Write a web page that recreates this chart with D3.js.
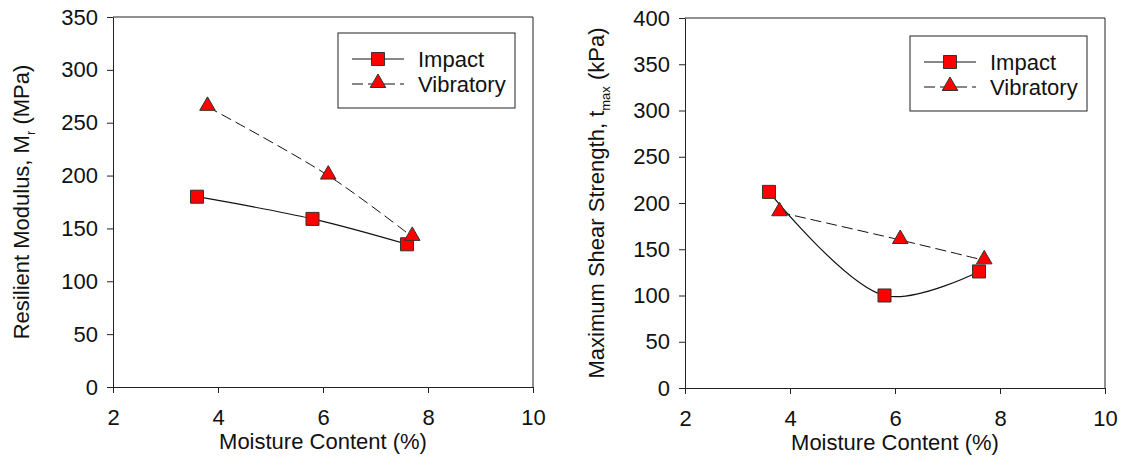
<!DOCTYPE html>
<html>
<head>
<meta charset="utf-8">
<script src="https://cdn.jsdelivr.net/npm/d3@7"></script>
<style>
  body { margin: 0; background: #fff; }
  svg { font-family: "Liberation Sans", Arial, sans-serif; }
  .axis path, .axis line { stroke: #222; }
  .axis text { font-size: 22px; fill: #111; font-family: "Liberation Sans", Arial, sans-serif; }
</style>
</head>
<body>
<div id="chart"></div>
<script>
// data
const xTicks = [2, 4, 6, 8, 10];

const mrImpactX = [3.6, 5.8, 7.6];
const mrImpactY = [180, 159, 135];
const mrVibX = [3.8, 6.1, 7.7];
const mrVibY = [265, 200, 142];
const mrTicks = [0, 50, 100, 150, 200, 250, 300, 350];

const tauImpactX = [3.6, 5.8, 7.6];
const tauImpactY = [212, 100, 126];
const tauVibX = [3.8, 6.1, 7.7];
const tauVibY = [190, 160, 138];
const tauTicks = [0, 50, 100, 150, 200, 250, 300, 350, 400];

const svg = d3.select("#chart").append("svg")
    .attr("width", 1122)
    .attr("height", 471);

function drawPanel(opts) {
    const width = 420, height = 370;
    const g = svg.append("g")
        .attr("transform", "translate(" + opts.left + "," + opts.top + ")");

    const x = d3.scaleLinear().domain([2, 10]).range([0, width]);
    const y = d3.scaleLinear().domain([0, opts.ymax]).range([height, 0]);

    // frame (top and right)
    g.append("line").attr("x1", 0).attr("x2", width).attr("y1", 0).attr("y2", 0)
        .attr("stroke", "#222");
    g.append("line").attr("x1", width).attr("x2", width).attr("y1", 0).attr("y2", height)
        .attr("stroke", "#222");

    g.append("g")
        .attr("class", "axis")
        .attr("transform", "translate(0," + height + ")")
        .call(d3.axisBottom(x).tickValues(xTicks).tickSize(6).tickSizeOuter(0).tickPadding(16));

    g.append("g")
        .attr("class", "axis")
        .call(d3.axisLeft(y).tickValues(opts.yTicks).tickSize(6).tickSizeOuter(0).tickPadding(9));

    // x axis title
    g.append("text")
        .attr("x", width / 2)
        .attr("y", height + 62)
        .attr("text-anchor", "middle")
        .attr("font-size", 22)
        .attr("fill", "#111")
        .text("Moisture Content (%)");

    // y axis title
    const yt = g.append("text")
        .attr("transform", "translate(" + opts.titleX + "," + (height / 2) + ") rotate(-90)")
        .attr("text-anchor", "middle")
        .attr("font-size", 22)
        .attr("fill", "#111");
    yt.append("tspan").text(opts.yTitle[0]);
    yt.append("tspan").attr("font-size", 13).attr("dy", 6).text(opts.yTitle[1]);
    yt.append("tspan").attr("dy", -6).text(opts.yTitle[2]);

    const impact = opts.impX.map((v, i) => [v, opts.impY[i]]);
    const vib = opts.vibX.map((v, i) => [v, opts.vibY[i]]);

    const line = d3.line()
        .x(d => x(d[0]))
        .y(d => y(d[1]))
        .curve(d3.curveCatmullRom.alpha(0.5));

    g.append("path")
        .datum(vib)
        .attr("d", line)
        .attr("fill", "none")
        .attr("stroke", "#111")
        .attr("stroke-width", 1)
        .attr("stroke-dasharray", "11,5");

    g.append("path")
        .datum(impact)
        .attr("d", line)
        .attr("fill", "none")
        .attr("stroke", "#111")
        .attr("stroke-width", 1.2);

    const sq = d3.symbol().type(d3.symbolSquare).size(170);
    const tri = d3.symbol().type(d3.symbolTriangle).size(105);

    g.selectAll(".imp")
        .data(impact)
        .enter().append("path")
        .attr("class", "imp")
        .attr("transform", d => "translate(" + x(d[0]) + "," + y(d[1]) + ")")
        .attr("d", sq)
        .attr("fill", "#ff0000")
        .attr("stroke", "#333")
        .attr("stroke-width", 1);

    g.selectAll(".vib")
        .data(vib)
        .enter().append("path")
        .attr("class", "vib")
        .attr("transform", d => "translate(" + x(d[0]) + "," + (y(d[1]) - 1) + ")")
        .attr("d", tri)
        .attr("fill", "#ff0000")
        .attr("stroke", "#333")
        .attr("stroke-width", 1);

    // legend
    const lg = g.append("g").attr("transform", "translate(225," + opts.legTop + ")");
    lg.append("rect")
        .attr("width", 177).attr("height", 75)
        .attr("fill", "#fff").attr("stroke", "#222").attr("stroke-width", 1);

    const entries = [
        { name: "Impact", sym: sq, dash: null, yy: 26 },
        { name: "Vibratory", sym: tri, dash: "11,5", yy: 51 }
    ];
    entries.forEach(e => {
        lg.append("line")
            .attr("x1", 14).attr("x2", 66)
            .attr("y1", e.yy).attr("y2", e.yy)
            .attr("stroke", "#111")
            .attr("stroke-dasharray", e.dash);
        lg.append("path")
            .attr("transform", "translate(40," + (e.sym === tri ? e.yy - 1 : e.yy) + ")")
            .attr("d", e.sym)
            .attr("fill", "#ff0000")
            .attr("stroke", "#333");
        lg.append("text")
            .attr("x", 80)
            .attr("y", e.yy + 8)
            .attr("font-size", 22)
            .attr("fill", "#111")
            .text(e.name);
    });
}

drawPanel({
    left: 113, top: 17, ymax: 350, yTicks: mrTicks,
    titleX: -84, legTop: 16,
    yTitle: ["Resilient Modulus, M", "r", " (MPa)"],
    impX: mrImpactX, impY: mrImpactY, vibX: mrVibX, vibY: mrVibY
});

drawPanel({
    left: 685, top: 18, ymax: 400, yTicks: tauTicks,
    titleX: -81, legTop: 18,
    yTitle: ["Maximum Shear Strength, t", "max", " (kPa)"],
    impX: tauImpactX, impY: tauImpactY, vibX: tauVibX, vibY: tauVibY
});
</script>
</body>
</html>
